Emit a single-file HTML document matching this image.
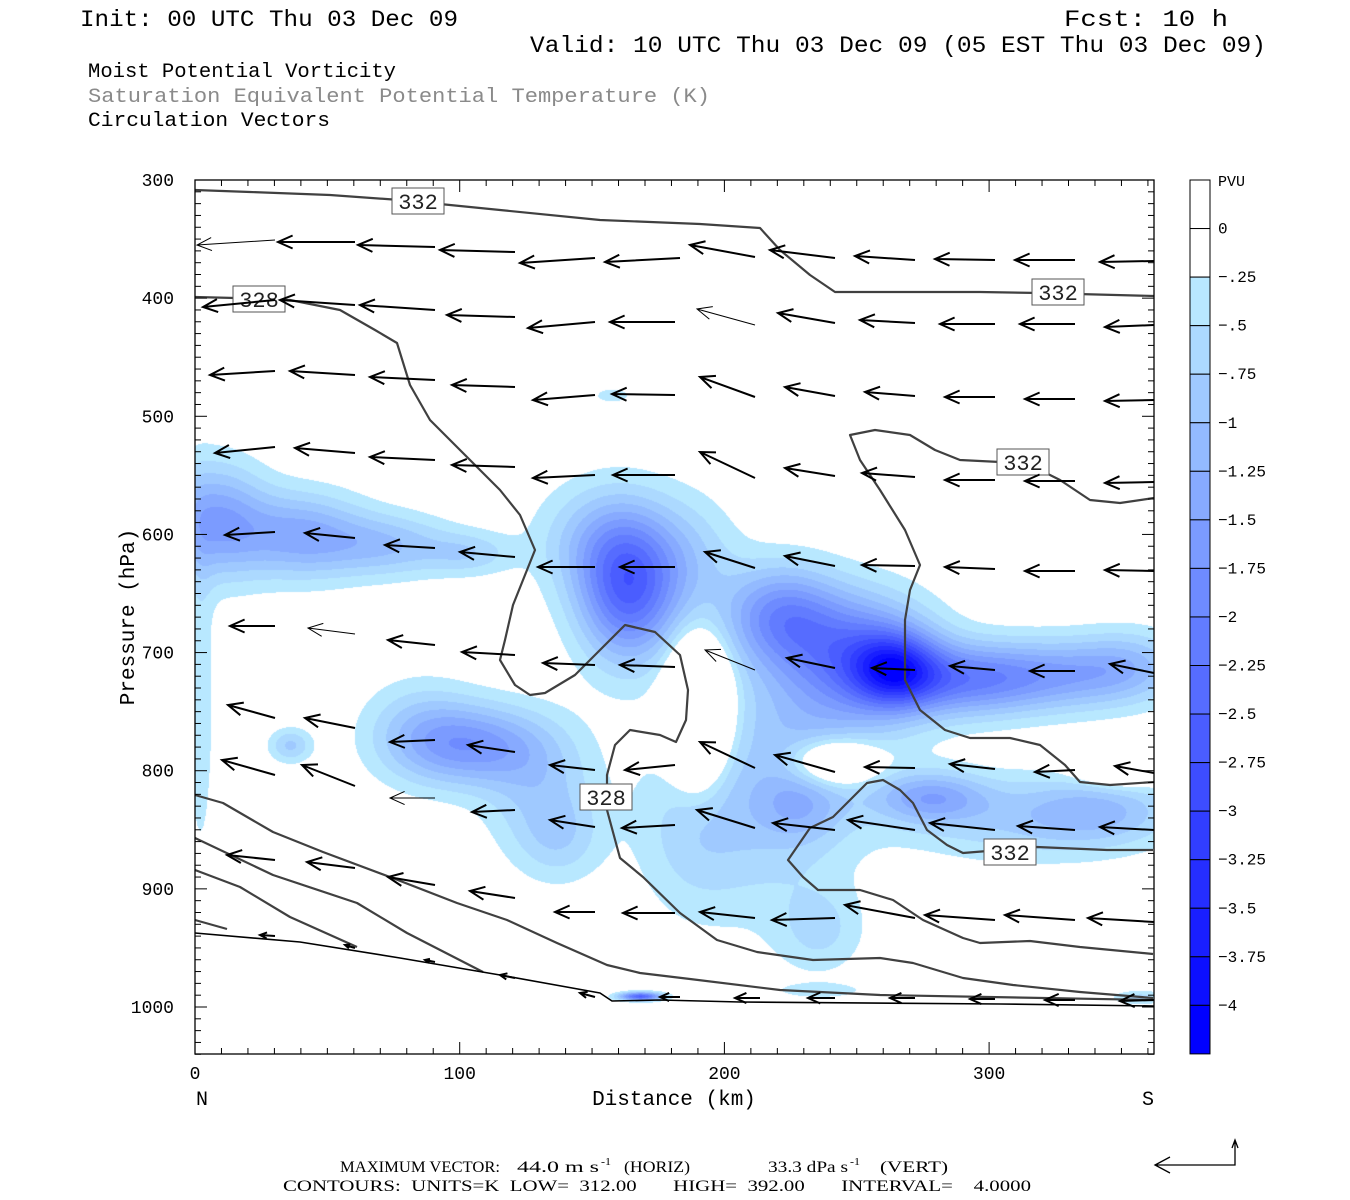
<!DOCTYPE html>
<html><head><meta charset="utf-8"><style>
body{margin:0;background:#fff;width:1350px;height:1200px;overflow:hidden;position:relative;font-family:"Liberation Mono",monospace}
canvas,svg{position:absolute;left:0;top:0}
</style></head><body>
<canvas id="c" width="1350" height="1200"></canvas>
<svg id="s" width="1350" height="1200" xmlns="http://www.w3.org/2000/svg">
<g font-family="Liberation Mono, monospace" fill="#000" xml:space="preserve">
<text x="80" y="26" font-size="23" textLength="378" lengthAdjust="spacingAndGlyphs">Init: 00 UTC Thu 03 Dec 09</text>
<text x="1064" y="26" font-size="23" textLength="164" lengthAdjust="spacingAndGlyphs">Fcst:   10 h</text>
<text x="530" y="52" font-size="23" textLength="736" lengthAdjust="spacingAndGlyphs">Valid: 10 UTC Thu 03 Dec 09 (05 EST Thu 03 Dec 09)</text>
<text x="88" y="77" font-size="20.5" textLength="308" lengthAdjust="spacingAndGlyphs">Moist Potential Vorticity</text>
<text x="88" y="102" font-size="20.5" fill="#8a8a8a" textLength="622" lengthAdjust="spacingAndGlyphs">Saturation Equivalent Potential Temperature (K)</text>
<text x="88" y="126" font-size="20.5" textLength="242" lengthAdjust="spacingAndGlyphs">Circulation Vectors</text>
</g>
<g id="g"></g>
</svg>
<script>
const X0=195,X1=1154,Y0=180,Y1=1054;
const py=p=>180+(p-300)*827/700, dx=d=>195+d*2.647;
const cols=[];for(let i=0;i<16;i++){const t=i/15;cols.push([Math.round(184*(1-t)),Math.round(232*(1-t)),255]);}
const G=[[215,520,35,40,1.4],[300,535,45,30,1.3],[390,545,45,22,0.9],[470,553,30,15,0.6],[200,700,10,120,0.45],
[628,590,35,50,2.3],[600,540,45,40,0.8],[690,560,35,45,0.6],
[780,615,40,35,1.6],[860,650,50,40,1.6],[895,670,30,25,2.2],[960,680,50,25,1.5],[1050,675,60,25,1.3],[1130,665,40,25,0.8],[830,700,60,60,0.7],
[475,745,50,28,1.4],[420,730,40,35,0.7],[540,790,40,45,0.7],[560,840,30,30,0.5],
[770,800,60,80,0.7],[930,797,40,18,1.2],[800,805,30,25,0.6],[1100,810,55,25,0.9],[1010,820,80,30,0.6],[820,930,30,30,0.5],[690,830,40,60,0.5],
[698,712,20,45,-2.5],[835,762,30,16,-1.5],[1120,765,30,14,-1.2],
[290,745,15,12,0.8],[612,395,12,5,0.5],[640,996,15,3,2.5],[820,990,30,5,0.4],[1140,997,20,5,0.6]];
const cv=document.getElementById('c').getContext('2d');
const W=X1-X0,H=Y1-Y0;const im=cv.createImageData(W,H);
for(let j=0;j<H;j++){const y=Y0+j;for(let i=0;i<W;i++){const x=X0+i;let v=0;
for(const g of G){const a=(x-g[0])/g[2],b=(y-g[1])/g[3];const e=a*a+b*b;if(e<30)v+=g[4]*Math.exp(-0.5*e);}
let k=Math.floor(v/0.25);let c=[255,255,255];if(k>=1){c=cols[Math.min(k-1,15)];}
const o=(j*W+i)*4;im.data[o]=c[0];im.data[o+1]=c[1];im.data[o+2]=c[2];im.data[o+3]=255;}}
cv.putImageData(im,X0,Y0);
let s='';
const L=(pts,w,col)=>{s+=`<polyline points="${pts.map(p=>p.join(',')).join(' ')}" fill="none" stroke="${col||'#404040'}" stroke-width="${w||2.2}" stroke-linejoin="round"/>`;};
L([[195,190],[250,192],[330,195],[400,200],[500,210],[600,220],[700,224],[760,228],[780,250],[810,275],[835,292],[900,292],[980,292],[1040,293],[1154,296]]);
L([[195,297],[235,298],[290,300],[340,310],[375,330],[397,343],[410,385],[430,420],[470,460],[500,490],[520,515],[535,550],[525,575],[513,605],[505,640],[500,660],[515,685],[530,695],[545,693],[575,675],[600,650],[625,625],[655,632],[680,655],[688,690],[686,720],[676,742],[660,735],[630,730],[615,745],[607,775],[607,810],[620,858],[643,877],[680,913],[717,940],[757,952],[813,960],[880,958],[913,963],[963,978],[1013,985],[1080,992],[1153,998]]);
L([[1154,498],[1120,503],[1090,500],[1060,480],[1030,465],[1000,462],[960,460],[935,450],[910,435],[875,430],[850,435],[860,460],[880,490],[905,530],[920,565],[910,590],[905,620],[905,680],[920,710],[945,730],[970,738],[1010,738],[1040,745],[1065,765],[1080,782],[1110,785],[1154,782]]);
L([[1153,850],[1107,850],[1037,847],[963,853],[947,845],[927,830],[913,803],[900,790],[883,780],[867,783],[833,817],[810,828],[788,860],[803,877],[818,890],[860,890],[893,900],[923,920],[963,938],[980,943],[1030,941],[1080,947],[1153,954]]);
L([[195,795],[223,803],[273,832],[323,852],[390,877],[457,903],[507,920],[557,943],[607,965],[640,973],[690,979],[780,990],[880,995],[1153,1000]]);
L([[195,838],[273,875],[357,903],[407,933],[483,972]]);
L([[195,870],[240,887],[290,917],[357,947]]);
L([[195,920],[227,929]]);
L([[195,933],[300,942],[400,958],[500,975],[600,993],[612,1001],[660,1000],[740,1002],[1000,1004],[1154,1006]],1.6,'#000');
const lab=(x,y,t)=>{s+=`<rect x="${x-26}" y="${y-13}" width="52" height="26" fill="#fff" stroke="#555" stroke-width="1"/><text x="${x}" y="${y+8}" font-family="Liberation Mono,monospace" font-size="22" text-anchor="middle" fill="#222">${t}</text>`;};
lab(418,201,'332');lab(259,299,'328');lab(1058,292,'332');lab(1023,462,'332');lab(606,797,'328');lab(1010,852,'332');
const A=[[197,245,275,240,1],[278,242,355,242],[358,245,435,247],[440,250,515,252],[520,263,595,258],[605,262,680,258],[690,245,755,257],[770,250,835,258],[855,256,915,260],[935,259,995,260],[1015,260,1075,260],[1100,262,1154,261],
[203,307,275,300],[280,300,355,305],[360,305,435,310],[447,315,515,317],[528,328,595,322],[610,322,675,322],[697,309,755,325,1],[778,313,835,323],[860,320,915,323],[940,324,995,324],[1020,324,1075,324],[1105,327,1154,325],
[210,375,275,371],[290,371,355,375],[370,377,435,380],[452,385,515,387],[533,400,595,395],[612,394,675,395],[700,377,755,397],[785,387,835,396],[865,392,915,396],[945,397,995,397],[1025,399,1075,399],[1105,401,1154,400],
[215,453,275,447],[295,448,355,453],[370,457,435,460],[452,465,515,467],[533,478,595,475],[613,475,675,475],[700,452,755,478],[785,468,835,476],[862,473,915,477],[945,480,995,480],[1025,481,1075,481],[1105,483,1154,482],
[225,535,275,532],[305,533,355,538],[385,545,435,548],[460,552,515,557],[538,567,595,567],[620,567,675,567],[705,552,755,568],[785,556,835,566],[862,565,915,566],[945,567,995,569],[1025,571,1075,571],[1105,570,1154,571],
[230,626,275,626],[308,628,355,634,1],[388,640,435,645],[462,652,515,655],[543,663,595,665],[620,665,675,667],[705,650,755,670,1],[787,658,835,668],[872,668,915,670],[950,666,995,670],[1030,671,1075,671],[1110,664,1154,673],
[228,705,275,718],[305,718,355,728],[390,742,435,740],[468,745,515,752],[550,765,595,770],[625,770,675,765],[700,742,755,768],[775,755,835,772],[865,767,915,768],[950,764,995,769],[1035,772,1075,770],[1115,766,1154,773],
[222,760,275,775],[302,765,355,786],[390,798,435,798,1],[472,812,515,810],[550,820,595,827],[622,828,675,825],[697,810,755,828],[773,823,835,830],[848,820,915,830],[930,823,995,830],[1018,826,1075,830],[1100,827,1154,830],
[227,855,275,860],[307,862,355,868],[388,877,435,885],[470,891,515,898],[555,912,595,912],[623,913,675,913],[700,912,755,918],[772,920,835,918],[845,905,915,918],[925,915,995,920],[1005,915,1075,920],[1088,918,1154,922],
[260,935,275,936],[345,945,355,948],[425,960,435,962],[500,975,515,978],[580,993,595,997],[660,997,680,997],[735,998,760,998],[808,998,835,998],[890,998,915,998],[970,999,995,999],[1045,1000,1075,1000],[1120,1001,1154,1000]];
for(const a of A){const [hx,hy,tx,ty,th]=a;const w=th?1:2;const ang=Math.atan2(ty-hy,tx-hx);const len=Math.hypot(tx-hx,ty-hy);const hl=Math.min(16,len*0.5);
const b1=[hx+hl*Math.cos(ang+0.42),hy+hl*Math.sin(ang+0.42)],b2=[hx+hl*Math.cos(ang-0.42),hy+hl*Math.sin(ang-0.42)];
s+=`<path d="M${tx},${ty}L${hx},${hy}M${b1}L${hx},${hy}L${b2}" fill="none" stroke="#000" stroke-width="${w}"/>`;}
s+=`<rect x="${X0}" y="${Y0}" width="${W}" height="${H}" fill="none" stroke="#000" stroke-width="1.3"/>`;
for(let p=300;p<=1040;p+=10){const y=py(p);const m=p%100==0;const l=m?12:6;s+=`<line x1="${X0}" x2="${X0+l}" y1="${y}" y2="${y}" stroke="#000"/><line x1="${X1-l}" x2="${X1}" y1="${y}" y2="${y}" stroke="#000"/>`;
if(m)s+=`<text x="174" y="${y+6}" font-family="Liberation Mono,monospace" font-size="18" text-anchor="end">${p}</text>`;}
for(let d=10;d<=360;d+=10){const x=dx(d);const m=d%100==0;const l=m?12:6;s+=`<line x1="${x}" x2="${x}" y1="${Y0}" y2="${Y0+l}" stroke="#000"/><line x1="${x}" x2="${x}" y1="${Y1-l}" y2="${Y1}" stroke="#000"/>`;}
[0,100,200,300].forEach(d=>{s+=`<text x="${dx(d)}" y="1079" font-family="Liberation Mono,monospace" font-size="18" text-anchor="middle">${d}</text>`;});
s+=`<text x="202" y="1105" font-family="Liberation Mono,monospace" font-size="20" text-anchor="middle">N</text><text x="1148" y="1105" font-family="Liberation Mono,monospace" font-size="20" text-anchor="middle">S</text>`;
s+=`<text x="674" y="1105" font-family="Liberation Mono,monospace" font-size="21" text-anchor="middle">Distance (km)</text>`;
s+=`<text transform="translate(134,617) rotate(-90)" font-family="Liberation Mono,monospace" font-size="21" text-anchor="middle">Pressure (hPa)</text>`;
const cb=['#fff','#fff'].concat(cols.map(c=>`rgb(${c})`));
for(let i=0;i<18;i++){const y=180+i*48.55;s+=`<rect x="1190" y="${y}" width="20" height="48.55" fill="${cb[i]}" stroke="#000" stroke-width="1"/>`;}
const lbs=['0','-.25','-.5','-.75','-1','-1.25','-1.5','-1.75','-2','-2.25','-2.5','-2.75','-3','-3.25','-3.5','-3.75','-4'];
s+=`<text x="1218" y="186" font-family="Liberation Mono,monospace" font-size="15">PVU</text>`;
lbs.forEach((t,i)=>{const y=180+(i+1)*48.55;s+=`<text x="1218" y="${y+5}" font-family="Liberation Mono,monospace" font-size="16">${t.replace('-','\u2212')}</text>`;});
const F=(x,y,t,len,fs)=>{s+=`<text x="${x}" y="${y}" font-family="Liberation Serif,serif" font-size="${fs||16}" xml:space="preserve"${len?` textLength="${len}" lengthAdjust="spacingAndGlyphs"`:''}>${t}</text>`;};
F(340,1172,'MAXIMUM VECTOR:',160);F(517,1172,'44.0 m s',82);F(601,1165,'-1',10,11);F(624,1172,'(HORIZ)',66);
F(768,1172,'33.3 dPa s',80);F(850,1165,'-1',10,11);F(880,1172,'(VERT)',68);
F(283,1191,'CONTOURS:  UNITS=K  LOW=  312.00       HIGH=  392.00       INTERVAL=    4.0000',748);
s+=`<path d="M1235,1140L1235,1165L1155,1165M1170,1157L1155,1165L1170,1173M1232,1148L1235,1140L1238,1148" fill="none" stroke="#000" stroke-width="1.3"/>`;
document.getElementById('g').innerHTML=s;
</script>
</body></html>
